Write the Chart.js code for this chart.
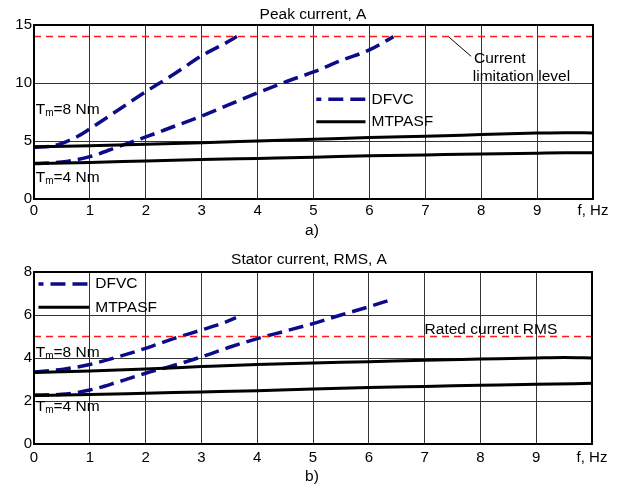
<!DOCTYPE html>
<html>
<head>
<meta charset="utf-8">
<script src="https://cdn.jsdelivr.net/npm/chart.js@4.4.1/dist/chart.umd.min.js"></script>
<style>
    html, body { margin: 0; padding: 0; background: #fff; }
    canvas { display: block; }
</style>
</head>
<body>
<canvas id="peakChart" width="623" height="240"></canvas>
<canvas id="rmsChart" width="623" height="247"></canvas>
<script>
// a) Peak current, A
const peakDfvc8Freq = [0, 0.3, 0.5, 0.8, 1, 1.5, 2, 2.5, 3, 3.45, 3.63];
const peakDfvc8 = [4.45, 4.55, 4.8, 5.45, 6.05, 7.65, 9.25, 10.75, 12.35, 13.5, 14.0];
const peakDfvc4Freq = [0, 0.5, 1, 1.5, 2, 2.5, 3, 3.5, 4, 4.5, 5, 5.5, 6, 6.43];
const peakDfvc4 = [3.05, 3.2, 3.65, 4.5, 5.35, 6.25, 7.15, 8.15, 9.15, 10.1, 10.95, 11.95, 12.85, 14.0];
const mtpasfFreq = [0, 1, 2, 3, 4, 5, 6, 7, 8, 9, 9.5, 10];
const peakMtpasf8 = [4.5, 4.6, 4.72, 4.85, 5.0, 5.15, 5.3, 5.42, 5.55, 5.68, 5.72, 5.7];
const peakMtpasf4 = [3.05, 3.15, 3.28, 3.4, 3.5, 3.6, 3.72, 3.8, 3.88, 3.95, 3.98, 3.98];
const peakLimit = 14;
const peakTicks = [0, 5, 10, 15];

// b) Stator current, RMS, A
const rmsDfvc8Freq = [0, 0.5, 1, 1.5, 2, 2.5, 3, 3.4, 3.62];
const rmsDfvc8 = [3.35, 3.47, 3.7, 4.05, 4.45, 4.9, 5.3, 5.64, 5.88];
const rmsDfvc4Freq = [0, 0.5, 1, 1.5, 2, 2.5, 3, 3.5, 4, 4.5, 5, 5.5, 6, 6.35];
const rmsDfvc4 = [2.28, 2.31, 2.51, 2.88, 3.29, 3.65, 4.05, 4.5, 4.9, 5.25, 5.6, 6.0, 6.38, 6.67];
const rmsMtpasf8 = [3.32, 3.4, 3.49, 3.6, 3.7, 3.77, 3.83, 3.9, 3.95, 4.0, 4.02, 4.0];
const rmsMtpasf4 = [2.25, 2.3, 2.36, 2.42, 2.48, 2.56, 2.63, 2.68, 2.73, 2.78, 2.8, 2.82];
const ratedRms = 5;
const rmsTicks = [0, 2, 4, 6, 8];

const freqTicks = [0, 1, 2, 3, 4, 5, 6, 7, 8, 9, 10];

const FONT = "'Liberation Sans', Arial, sans-serif";
const TEXT_SIZE = 15.5;
const DFVC_COLOUR = '#0c0c8a';
const LIMIT_COLOUR = '#ff1a1a';

function pts(xs, ys) {
    return xs.map((x, i) => ({ x, y: ys[i] }));
}

function flat(value) {
    return [{ x: 0, y: value }, { x: 10, y: value }];
}

function dfvcSet(data) {
    return { data, borderColor: DFVC_COLOUR, borderWidth: 3.5, borderDash: [15, 7], cubicInterpolationMode: 'monotone' };
}

function mtpasfSet(data) {
    return { data, borderColor: '#000', borderWidth: 3, cubicInterpolationMode: 'monotone' };
}

function limitSet(data) {
    return { data, borderColor: LIMIT_COLOUR, borderWidth: 1.5, borderDash: [7, 5] };
}

function tmLabel(ctx, x, y, torque) {
    ctx.font = `${TEXT_SIZE}px ${FONT}`;
    ctx.fillText('T', x, y);
    const w = ctx.measureText('T').width;
    ctx.font = `10px ${FONT}`;
    ctx.fillText('m', x + w, y + 2);
    const w2 = ctx.measureText('m').width;
    ctx.font = `${TEXT_SIZE}px ${FONT}`;
    ctx.fillText(`=${torque} Nm`, x + w + w2, y);
}

function legend(ctx, sx, sy, x0, x1, y1, y2) {
    ctx.save();
    ctx.lineWidth = 3.5;
    ctx.strokeStyle = DFVC_COLOUR;
    ctx.setLineDash([15, 7]);
    ctx.lineDashOffset = 10;
    ctx.beginPath();
    ctx.moveTo(sx(x0), sy(y1));
    ctx.lineTo(sx(x1), sy(y1));
    ctx.stroke();
    ctx.setLineDash([]);
    ctx.lineWidth = 3;
    ctx.strokeStyle = '#000';
    ctx.beginPath();
    ctx.moveTo(sx(x0), sy(y2));
    ctx.lineTo(sx(x1), sy(y2));
    ctx.stroke();
    ctx.fillStyle = '#000';
    ctx.font = `${TEXT_SIZE}px ${FONT}`;
    ctx.textBaseline = 'middle';
    ctx.fillText('DFVC', sx(x1) + 6, sy(y1));
    ctx.fillText('MTPASF', sx(x1) + 6, sy(y2));
    ctx.restore();
}

function makeChart(id, opts) {
    const ctx = document.getElementById(id).getContext('2d');
    return new Chart(ctx, {
        type: 'line',
        data: { datasets: opts.datasets },
        options: {
            responsive: false,
            animation: false,
            events: [],
            elements: { point: { radius: 0 } },
            layout: { padding: { top: opts.top, right: opts.right, left: 0, bottom: 0 } },
            plugins: { legend: { display: false }, tooltip: { enabled: false } },
            scales: {
                x: {
                    type: 'linear',
                    min: 0,
                    max: 10,
                    afterBuildTicks: (scale) => { scale.ticks = freqTicks.map((v) => ({ value: v })); },
                    afterFit: (scale) => { scale.height = opts.xHeight; },
                    border: { display: false },
                    grid: { color: '#333', lineWidth: 1, drawTicks: false },
                    ticks: {
                        color: '#000',
                        font: { family: FONT, size: 15 },
                        padding: opts.xPad,
                        maxRotation: 0,
                        autoSkip: false,
                        callback: (v) => (v === 10 ? 'f, Hz' : v),
                    },
                },
                y: {
                    min: 0,
                    max: opts.yMax,
                    afterBuildTicks: (scale) => { scale.ticks = opts.yTicks.map((v) => ({ value: v })); },
                    afterFit: (scale) => { scale.width = 34; },
                    border: { display: false },
                    grid: { color: '#333', lineWidth: 1, drawTicks: false },
                    ticks: { color: '#000', font: { family: FONT, size: 15 }, padding: 2 },
                },
            },
        },
        plugins: [{
            id: 'frameAndText',
            afterDraw(chart) {
                const c = chart.ctx;
                const a = chart.chartArea;
                const sx = (v) => chart.scales.x.getPixelForValue(v);
                const sy = (v) => chart.scales.y.getPixelForValue(v);
                c.save();
                c.lineWidth = 2;
                c.strokeStyle = '#000';
                c.strokeRect(a.left, a.top, a.right - a.left, a.bottom - a.top);
                c.fillStyle = '#000';
                c.textAlign = 'center';
                c.font = `${TEXT_SIZE}px ${FONT}`;
                c.textBaseline = 'alphabetic';
                c.fillText(opts.title, opts.titleX, opts.titleY);
                c.textBaseline = 'middle';
                c.fillText(opts.tag, 312, opts.tagY);
                c.textAlign = 'left';
                c.textBaseline = 'alphabetic';
                tmLabel(c, sx(0.03), sy(opts.tm8), 8);
                tmLabel(c, sx(0.03), sy(opts.tm4), 4);
                opts.extra(c, sx, sy);
                c.restore();
            },
        }],
    });
}

window.addEventListener('load', () => {
    makeChart('peakChart', {
        datasets: [
            limitSet(flat(peakLimit)),
            mtpasfSet(pts(mtpasfFreq, peakMtpasf8)),
            mtpasfSet(pts(mtpasfFreq, peakMtpasf4)),
            dfvcSet(pts(peakDfvc8Freq, peakDfvc8)),
            dfvcSet(pts(peakDfvc4Freq, peakDfvc4)),
        ],
        top: 25, right: 30, xHeight: 41, xPad: 3,
        yMax: 15, yTicks: peakTicks,
        title: 'Peak current, A', titleX: 313, titleY: 19,
        tag: 'a)', tagY: 231,
        tm8: 7.33, tm4: 1.5,
        extra(c, sx, sy) {
            legend(c, sx, sy, 5.05, 5.93, 8.59, 6.66);
            c.lineWidth = 1;
            c.strokeStyle = '#000';
            c.beginPath();
            c.moveTo(sx(7.42), sy(13.97));
            c.lineTo(sx(7.82), sy(12.3));
            c.stroke();
            c.font = `${TEXT_SIZE}px ${FONT}`;
            c.fillText('Current', sx(7.87), sy(11.72));
            c.fillText('limitation level', sx(7.85), sy(10.17));
        },
    });

    makeChart('rmsChart', {
        datasets: [
            limitSet(flat(ratedRms)),
            mtpasfSet(pts(mtpasfFreq, rmsMtpasf8)),
            mtpasfSet(pts(mtpasfFreq.filter((f) => f !== 9.5), rmsMtpasf4.filter((v, i) => i !== 10))),
            dfvcSet(pts(rmsDfvc8Freq, rmsDfvc8)),
            dfvcSet(pts(rmsDfvc4Freq, rmsDfvc4)),
        ],
        top: 32, right: 31, xHeight: 43, xPad: 5,
        yMax: 8, yTicks: rmsTicks,
        title: 'Stator current, RMS, A', titleX: 309, titleY: 24,
        tag: 'b)', tagY: 237,
        tm8: 4.03, tm4: 1.53,
        extra(c, sx, sy) {
            legend(c, sx, sy, 0.08, 0.99, 7.44, 6.36);
            c.font = `${TEXT_SIZE}px ${FONT}`;
            c.fillText('Rated current RMS', sx(7.0), sy(5.12));
        },
    });
});
</script>
</body>
</html>
